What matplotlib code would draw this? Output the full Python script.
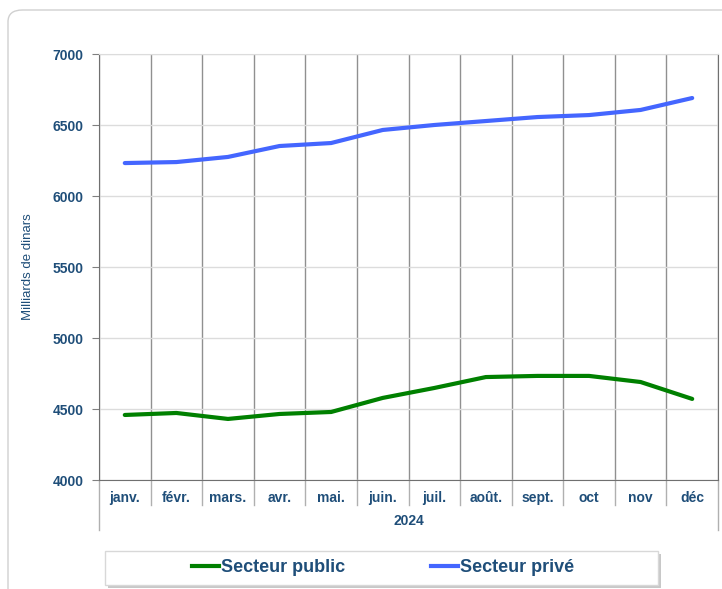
import matplotlib.pyplot as plt
from matplotlib.patches import FancyBboxPatch, Rectangle
import matplotlib.transforms as mtransforms
import numpy as np

months = ["janv.", "févr.", "mars.", "avr.", "mai.", "juin.", "juil.",
          "août.", "sept.", "oct", "nov", "déc"]
year = "2024"
public = [4458, 4472, 4430, 4465, 4479, 4578, 4648, 4725, 4733, 4733, 4690, 4571]
prive = [6232, 6239, 6275, 6352, 6373, 6465, 6500, 6528, 6556, 6570, 6606, 6690]
yticks = [4000, 4500, 5000, 5500, 6000, 6500, 7000]

navy = "#1F4E79"
plt.rcParams['font.family'] = ['Liberation Sans', 'DejaVu Sans']

fig = plt.figure(figsize=(7.22, 5.89), dpi=100)

# outer rounded frame
frame = FancyBboxPatch((8 / 722, -0.05), 1.2, 1 - 10 / 589 + 0.05,
                       boxstyle="round,pad=0,rounding_size=0.02",
                       transform=fig.transFigure, fc="white", ec="#d0d0d0", lw=1,
                       zorder=-10)
fig.patches.append(frame)

ax = fig.add_axes([99 / 722, 1 - 480 / 589, (718 - 99) / 722, (480 - 54) / 589])
x = np.arange(len(months))
ax.plot(x, public, color="#008000", lw=3, solid_capstyle="round", zorder=3)
ax.plot(x, prive, color="#4466FF", lw=3, solid_capstyle="round", zorder=3)

ax.set_xlim(-0.5, len(months) - 0.5)
ax.set_ylim(4000, 7000)
ax.set_yticks(yticks)
ax.set_yticklabels([str(v) for v in yticks], fontsize=10, fontweight="bold", color=navy)
ax.tick_params(axis="y", length=5, color="#808080", pad=6)
ax.grid(axis="y", color="#dcdcdc", lw=1)

ax.set_xticks(np.arange(-0.5, len(months), 1), minor=True)
ax.grid(axis="x", which="minor", color="#909090", lw=1)
ax.set_xticks(x)
ax.set_xticklabels(months, fontsize=10, fontweight="bold", color=navy)
ax.tick_params(axis="x", which="both", length=0, pad=8)

for s in ["left", "bottom", "right"]:
    ax.spines[s].set_color("#707070")
ax.spines["top"].set_color("#dcdcdc")

# category separators below axis
trans = mtransforms.blended_transform_factory(ax.transData, ax.transAxes)
for b in np.arange(0.5, len(months) - 1, 1):
    ax.plot([b, b], [0, -25 / 426], transform=trans, color="#b0b0b0", lw=1, clip_on=False)
for b in [-0.5, len(months) - 0.5]:
    ax.plot([b, b], [0, -50 / 426], transform=trans, color="#b0b0b0", lw=1, clip_on=False)
ax.text(0.5, -41 / 426, year, transform=ax.transAxes, ha="center", va="center",
        fontsize=10, fontweight="bold", color=navy)

fig.text(28 / 722, 1 - 267 / 589, "Milliards de dinars", rotation=90,
         ha="center", va="center", fontsize=9.5, color=navy)

# legend box with shadow
fig.patches.append(Rectangle((108 / 722, 1 - 588 / 589), 553 / 722, 34 / 589,
                             transform=fig.transFigure, fc="#c8c8c8", ec="none"))
fig.patches.append(Rectangle((105 / 722, 1 - 585 / 589), 553 / 722, 34 / 589,
                             transform=fig.transFigure, fc="white", ec="#d8d8d8", lw=1))
h1, = ax.plot([], [], color="#008000", lw=3)
h2, = ax.plot([], [], color="#4466FF", lw=3)
leg = fig.legend([h1, h2], ["Secteur public", "Secteur privé"], loc="center",
                 bbox_to_anchor=(383 / 722, 1 - 568 / 589), ncol=2, frameon=False,
                 handlelength=1.5, handletextpad=0.1, columnspacing=4.8,
                 prop={"size": 13, "weight": "bold"})
for t in leg.get_texts():
    t.set_color(navy)

fig.savefig("out.png", dpi=100)
